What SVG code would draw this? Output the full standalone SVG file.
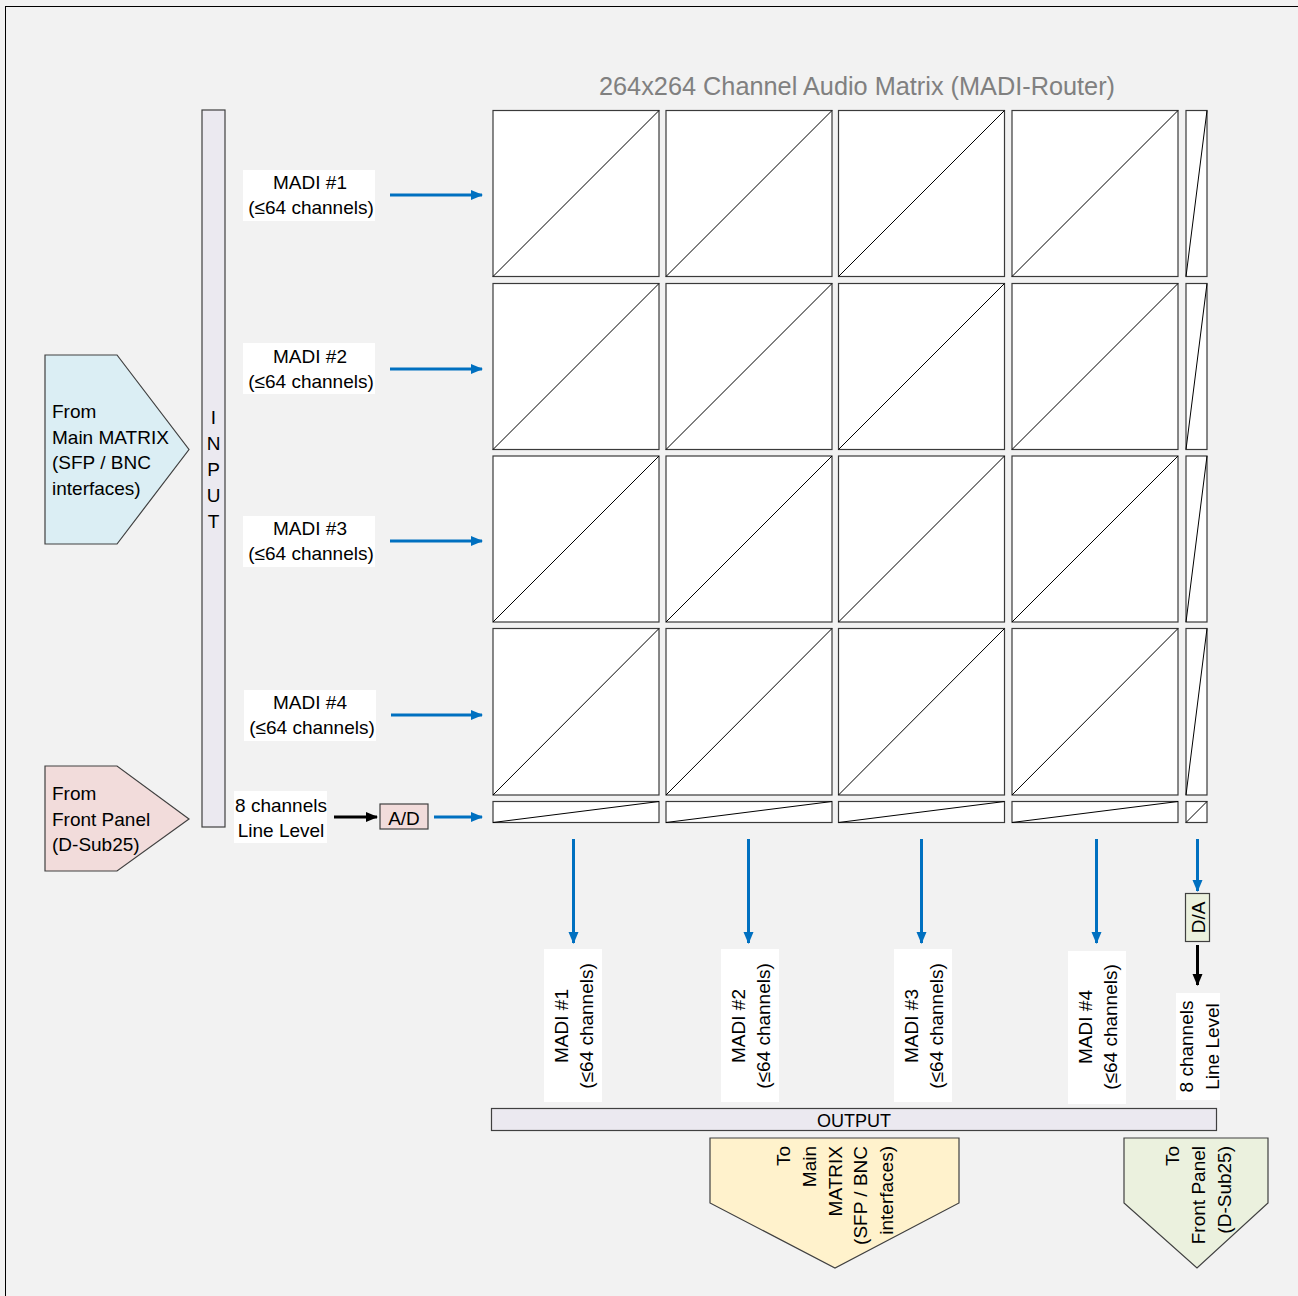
<svg xmlns="http://www.w3.org/2000/svg" width="1298" height="1296" viewBox="0 0 1298 1296">
<defs>
<marker id="ab" markerUnits="userSpaceOnUse" markerWidth="12" markerHeight="12" viewBox="0 0 12 12" refX="11" refY="6" orient="auto"><path d="M0,1 L12,6 L0,11 Z" fill="#0070c0"/></marker>
<marker id="ak" markerUnits="userSpaceOnUse" markerWidth="12" markerHeight="12" viewBox="0 0 12 12" refX="11" refY="6" orient="auto"><path d="M0,1 L12,6 L0,11 Z" fill="#000"/></marker>
<style>
text{font-family:"Liberation Sans",Arial,sans-serif;font-size:19px;fill:#000}
.c{text-anchor:middle}
.e{text-anchor:end}
.lbl{fill:#fff}
.cell{fill:#fff;stroke:#3a3a3a;stroke-width:1.2}
.dg{stroke:#000;stroke-width:1;fill:none}
.blue{stroke:#0070c0;stroke-width:3;fill:none;marker-end:url(#ab)}
.blk{stroke:#000;stroke-width:3;fill:none;marker-end:url(#ak)}
.bar{fill:#ebe9f0;stroke:#404040;stroke-width:1.2}
.shape{stroke:#404040;stroke-width:1.2}
</style>
</defs>
<rect x="0" y="0" width="1298" height="1296" fill="#f2f2f2"/>
<rect x="5.5" y="6.5" width="1300" height="1300" fill="none" stroke="#000" stroke-width="1"/>

<g id="title"><text x="857" y="95" class="c" style="font-size:25.3px;fill:#808080">264x264 Channel Audio Matrix (MADI-Router)</text></g>

<g id="input-bar">
<rect class="bar" x="202" y="110" width="23" height="717"/>
<text x="213.5" y="424" class="c">I</text>
<text x="213.5" y="450" class="c">N</text>
<text x="213.5" y="476" class="c">P</text>
<text x="213.5" y="502" class="c">U</text>
<text x="213.5" y="528" class="c">T</text>
</g>

<g id="from-main">
<polygon class="shape" points="45,355 117,355 189,449.5 117,544 45,544" fill="#dbeef4"/>
<text x="52" y="418">From</text>
<text x="52" y="444">Main MATRIX</text>
<text x="52" y="469">(SFP / BNC</text>
<text x="52" y="495">interfaces)</text>
</g>

<g id="from-front">
<polygon class="shape" points="45,766 117,766 189,819 117,871 45,871" fill="#f2dcdb"/>
<text x="52" y="800">From</text>
<text x="52" y="826">Front Panel</text>
<text x="52" y="851">(D-Sub25)</text>
</g>

<g id="in-madi1"><rect class="lbl" x="243" y="170" width="132" height="51"/><text x="310" y="189" class="c">MADI #1</text><text x="311" y="214" class="c">(≤64 channels)</text></g>
<g id="in-madi2"><rect class="lbl" x="243" y="343" width="132" height="51"/><text x="310" y="363" class="c">MADI #2</text><text x="311" y="388" class="c">(≤64 channels)</text></g>
<g id="in-madi3"><rect class="lbl" x="243" y="516" width="132" height="51"/><text x="310" y="535" class="c">MADI #3</text><text x="311" y="560" class="c">(≤64 channels)</text></g>
<g id="in-madi4"><rect class="lbl" x="244" y="690" width="132" height="51"/><text x="310" y="709" class="c">MADI #4</text><text x="312" y="734" class="c">(≤64 channels)</text></g>

<g id="in-line"><rect class="lbl" x="234" y="791" width="93" height="52"/><text x="281" y="812" class="c">8 channels</text><text x="281" y="837" class="c">Line Level</text></g>
<g id="ad"><rect class="shape" x="380" y="804" width="48" height="25" fill="#f2dcdb"/><text x="404" y="825" class="c">A/D</text></g>

<g id="matrix">
<rect class="cell" x="493" y="110.5" width="166" height="166"/><line class="dg" x1="493" y1="276.5" x2="659" y2="110.5"/>
<rect class="cell" x="666" y="110.5" width="166" height="166"/><line class="dg" x1="666" y1="276.5" x2="832" y2="110.5"/>
<rect class="cell" x="838.5" y="110.5" width="166" height="166"/><line class="dg" x1="838.5" y1="276.5" x2="1004.5" y2="110.5"/>
<rect class="cell" x="1012" y="110.5" width="166" height="166"/><line class="dg" x1="1012" y1="276.5" x2="1178" y2="110.5"/>
<rect class="cell" x="1186" y="110.5" width="21" height="166"/><line class="dg" x1="1186" y1="276.5" x2="1207" y2="110.5"/>
<rect class="cell" x="493" y="283.5" width="166" height="166"/><line class="dg" x1="493" y1="449.5" x2="659" y2="283.5"/>
<rect class="cell" x="666" y="283.5" width="166" height="166"/><line class="dg" x1="666" y1="449.5" x2="832" y2="283.5"/>
<rect class="cell" x="838.5" y="283.5" width="166" height="166"/><line class="dg" x1="838.5" y1="449.5" x2="1004.5" y2="283.5"/>
<rect class="cell" x="1012" y="283.5" width="166" height="166"/><line class="dg" x1="1012" y1="449.5" x2="1178" y2="283.5"/>
<rect class="cell" x="1186" y="283.5" width="21" height="166"/><line class="dg" x1="1186" y1="449.5" x2="1207" y2="283.5"/>
<rect class="cell" x="493" y="456" width="166" height="166"/><line class="dg" x1="493" y1="622" x2="659" y2="456"/>
<rect class="cell" x="666" y="456" width="166" height="166"/><line class="dg" x1="666" y1="622" x2="832" y2="456"/>
<rect class="cell" x="838.5" y="456" width="166" height="166"/><line class="dg" x1="838.5" y1="622" x2="1004.5" y2="456"/>
<rect class="cell" x="1012" y="456" width="166" height="166"/><line class="dg" x1="1012" y1="622" x2="1178" y2="456"/>
<rect class="cell" x="1186" y="456" width="21" height="166"/><line class="dg" x1="1186" y1="622" x2="1207" y2="456"/>
<rect class="cell" x="493" y="628.5" width="166" height="166.5"/><line class="dg" x1="493" y1="795" x2="659" y2="628.5"/>
<rect class="cell" x="666" y="628.5" width="166" height="166.5"/><line class="dg" x1="666" y1="795" x2="832" y2="628.5"/>
<rect class="cell" x="838.5" y="628.5" width="166" height="166.5"/><line class="dg" x1="838.5" y1="795" x2="1004.5" y2="628.5"/>
<rect class="cell" x="1012" y="628.5" width="166" height="166.5"/><line class="dg" x1="1012" y1="795" x2="1178" y2="628.5"/>
<rect class="cell" x="1186" y="628.5" width="21" height="166.5"/><line class="dg" x1="1186" y1="795" x2="1207" y2="628.5"/>
<rect class="cell" x="493" y="801.5" width="166" height="21"/><line class="dg" x1="493" y1="822.5" x2="659" y2="801.5"/>
<rect class="cell" x="666" y="801.5" width="166" height="21"/><line class="dg" x1="666" y1="822.5" x2="832" y2="801.5"/>
<rect class="cell" x="838.5" y="801.5" width="166" height="21"/><line class="dg" x1="838.5" y1="822.5" x2="1004.5" y2="801.5"/>
<rect class="cell" x="1012" y="801.5" width="166" height="21"/><line class="dg" x1="1012" y1="822.5" x2="1178" y2="801.5"/>
<rect class="cell" x="1186" y="801.5" width="21" height="21"/><line class="dg" x1="1186" y1="822.5" x2="1207" y2="801.5"/>
</g>

<g id="connectors">
<line class="blue" x1="390" y1="195" x2="482" y2="195"/>
<line class="blue" x1="390" y1="369" x2="482" y2="369"/>
<line class="blue" x1="390" y1="541" x2="482" y2="541"/>
<line class="blue" x1="391" y1="715" x2="482" y2="715"/>
<line class="blk" x1="334" y1="817" x2="377" y2="817"/>
<line class="blue" x1="434" y1="817" x2="482" y2="817"/>
<line class="blue" x1="573.5" y1="839" x2="573.5" y2="943"/>
<line class="blue" x1="748.5" y1="839" x2="748.5" y2="943"/>
<line class="blue" x1="921.5" y1="839" x2="921.5" y2="943"/>
<line class="blue" x1="1096.5" y1="839" x2="1096.5" y2="943"/>
<line class="blue" x1="1197.5" y1="839" x2="1197.5" y2="891"/>
<line class="blk" x1="1197.5" y1="945" x2="1197.5" y2="985"/>
</g>

<g id="da"><rect class="shape" x="1185.5" y="893.5" width="24" height="48" fill="#ebf1de"/><text transform="translate(1205,917.5) rotate(-90)" class="c">D/A</text></g>

<g id="out-madi1"><rect class="lbl" x="544" y="949" width="58" height="153"/><text transform="translate(568,1026) rotate(-90)" class="c">MADI #1</text><text transform="translate(593,1026) rotate(-90)" class="c">(≤64 channels)</text></g>
<g id="out-madi2"><rect class="lbl" x="721" y="949" width="58" height="153"/><text transform="translate(745,1026) rotate(-90)" class="c">MADI #2</text><text transform="translate(770,1026) rotate(-90)" class="c">(≤64 channels)</text></g>
<g id="out-madi3"><rect class="lbl" x="894" y="949" width="58" height="153"/><text transform="translate(918,1026) rotate(-90)" class="c">MADI #3</text><text transform="translate(943,1026) rotate(-90)" class="c">(≤64 channels)</text></g>
<g id="out-madi4"><rect class="lbl" x="1068" y="951" width="58" height="153"/><text transform="translate(1092,1027) rotate(-90)" class="c">MADI #4</text><text transform="translate(1117,1027) rotate(-90)" class="c">(≤64 channels)</text></g>

<g id="out-line"><rect class="lbl" x="1176" y="993" width="44" height="107"/><text transform="translate(1193,1046.5) rotate(-90)" class="c">8 channels</text><text transform="translate(1219,1046.5) rotate(-90)" class="c">Line Level</text></g>

<g id="output-bar"><rect class="bar" x="491.5" y="1108.5" width="725" height="22"/><text x="854" y="1127" class="c" style="font-size:18px">OUTPUT</text></g>

<g id="to-main">
<polygon class="shape" points="710,1138 959,1138 959,1203 835,1268 710,1203" fill="#fff2cc"/>
<text transform="translate(790,1146) rotate(-90)" class="e">To</text>
<text transform="translate(816,1146) rotate(-90)" class="e">Main</text>
<text transform="translate(842,1146) rotate(-90)" class="e">MATRIX</text>
<text transform="translate(867,1146) rotate(-90)" class="e">(SFP / BNC</text>
<text transform="translate(893,1146) rotate(-90)" class="e">interfaces)</text>
</g>

<g id="to-front">
<polygon class="shape" points="1124,1138 1268,1138 1268,1203 1197,1268 1124,1203" fill="#ebf1de"/>
<text transform="translate(1179,1146) rotate(-90)" class="e">To</text>
<text transform="translate(1205,1146) rotate(-90)" class="e">Front Panel</text>
<text transform="translate(1231,1146) rotate(-90)" class="e">(D-Sub25)</text>
</g>
</svg>
